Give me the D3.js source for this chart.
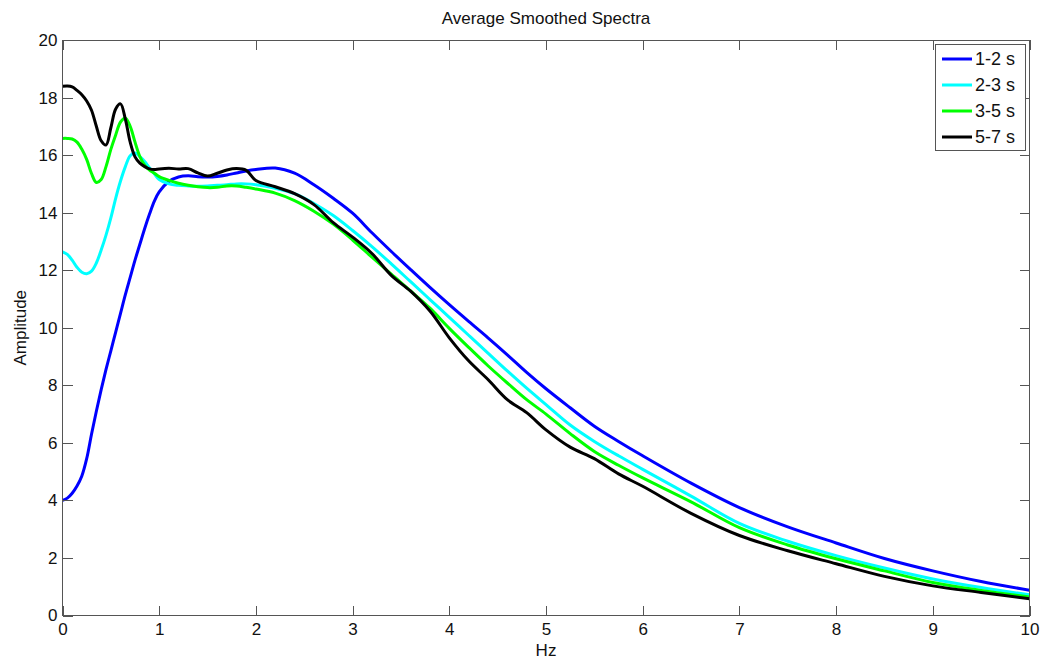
<!DOCTYPE html>
<html>
<head>
<meta charset="utf-8">
<script src="https://cdn.jsdelivr.net/npm/d3@7"></script>
<style>
  html, body { margin: 0; padding: 0; background: #fff; }
  svg { display: block; font-family: "Liberation Sans", Arial, sans-serif; }
</style>
</head>
<body>
<svg id="chart" width="1042" height="662"></svg>
<script>
// ---- data ----
const hz = [0, 0.05, 0.1, 0.15, 0.2, 0.25, 0.3, 0.35, 0.4, 0.45, 0.5, 0.55, 0.6, 0.65, 0.7, 0.75, 0.8, 0.85, 0.9, 0.95,
  1.0, 1.1, 1.2, 1.3, 1.4, 1.5, 1.6, 1.7, 1.8, 1.9, 2.0, 2.2, 2.4, 2.6, 2.8, 3.0, 3.2, 3.4, 3.6, 3.8,
  4.0, 4.2, 4.4, 4.6, 4.8, 5.0, 5.25, 5.5, 5.75, 6.0, 6.5, 7.0, 7.5, 8.0, 8.5, 9.0, 9.5, 10.0];

const s12 = [4.0, 4.08, 4.25, 4.5, 4.85, 5.45, 6.3, 7.1, 7.85, 8.55, 9.2, 9.85, 10.5, 11.15, 11.75, 12.35, 12.9, 13.45, 13.95, 14.4,
  14.72, 15.08, 15.24, 15.28, 15.25, 15.24, 15.26, 15.31, 15.38, 15.45, 15.5, 15.55, 15.37, 14.97, 14.5, 13.98, 13.3, 12.65, 12.02, 11.4,
  10.8, 10.22, 9.65, 9.06, 8.45, 7.88, 7.22, 6.58, 6.05, 5.55, 4.6, 3.75, 3.08, 2.52, 1.98, 1.55, 1.18, 0.88];

const s23 = [12.64, 12.55, 12.35, 12.1, 11.93, 11.88, 11.97, 12.25, 12.7, 13.22, 13.82, 14.5, 15.1, 15.6, 15.98, 16.07, 15.95, 15.78, 15.55, 15.35,
  15.15, 15.0, 14.95, 14.93, 14.92, 14.93, 14.95, 14.97, 15.0, 15.0, 14.97, 14.85, 14.66, 14.32, 13.9, 13.38, 12.82, 12.22, 11.6, 10.98,
  10.36, 9.74, 9.12, 8.5, 7.9, 7.33, 6.62, 6.05, 5.55, 5.08, 4.15, 3.2, 2.58, 2.08, 1.65, 1.27, 0.97, 0.72];

const s35 = [16.58, 16.58, 16.56, 16.45, 16.2, 15.85, 15.36, 15.05, 15.15, 15.6, 16.2, 16.7, 17.15, 17.28, 17.0, 16.45, 15.95, 15.65, 15.48, 15.37,
  15.25, 15.12, 15.02, 14.95, 14.9, 14.87, 14.88, 14.93, 14.93, 14.88, 14.82, 14.68, 14.42, 14.05, 13.6, 13.05, 12.45, 11.86, 11.28, 10.68,
  9.98, 9.32, 8.68, 8.08, 7.5, 7.0, 6.32, 5.7, 5.22, 4.78, 3.95, 3.05, 2.45, 1.97, 1.55, 1.15, 0.87, 0.64];

const s57 = [18.39, 18.4, 18.37, 18.25, 18.1, 17.88, 17.56, 17.0, 16.5, 16.35, 16.95, 17.6, 17.78, 17.25, 16.45, 15.94, 15.72, 15.6, 15.52, 15.5,
  15.52, 15.54, 15.52, 15.53, 15.38, 15.27, 15.37, 15.48, 15.53, 15.47, 15.12, 14.9, 14.66, 14.28, 13.65, 13.15, 12.58, 11.82, 11.27, 10.58,
  9.65, 8.85, 8.2, 7.5, 7.05, 6.45, 5.85, 5.45, 4.92, 4.49, 3.55, 2.78, 2.25, 1.8, 1.36, 1.03, 0.8, 0.58];

const seriesNames = ["1-2 s", "2-3 s", "3-5 s", "5-7 s"];
const seriesColors = ["#0000ff", "#00ffff", "#00ff00", "#000000"];
const seriesValues = [s12, s23, s35, s57];

const xTicks = [0, 1, 2, 3, 4, 5, 6, 7, 8, 9, 10];
const yTicks = [0, 2, 4, 6, 8, 10, 12, 14, 16, 18, 20];

const titleText = "Average Smoothed Spectra";
const xLabel = "Hz";
const yLabel = "Amplitude";

// ---- layout ----
const svg = d3.select("#chart");
const mLeft = 62.5, mRight = 1029.5, mTop = 40, mBottom = 615.5;
const x = d3.scaleLinear().domain([0, 10]).range([mLeft, mRight]);
const y = d3.scaleLinear().domain([0, 20]).range([mBottom, mTop]);
const axisColor = "#555";
const tickLen = 10;

// data lines
const line = d3.line().x((d, i) => x(hz[i])).y(d => y(d)).curve(d3.curveCatmullRom.alpha(0.5));
seriesValues.forEach((vals, k) => {
  svg.append("path")
    .attr("d", line(vals))
    .attr("fill", "none")
    .attr("stroke", seriesColors[k])
    .attr("stroke-width", 3)
    .attr("stroke-linejoin", "round");
});

function styleAxis(g, labels) {
  g.select(".domain").remove();
  g.selectAll(".tick line").attr("stroke", axisColor).attr("stroke-width", 1).attr("shape-rendering", "crispEdges");
  if (!labels) g.selectAll(".tick text").remove();
  else g.selectAll(".tick text").attr("fill", "#111").style("font-size", "17px").style("font-family", '"Liberation Sans", Arial, sans-serif');
}

svg.append("g").attr("transform", `translate(0,${mBottom})`)
  .call(d3.axisBottom(x).tickValues(xTicks).tickSizeInner(-tickLen).tickSizeOuter(0).tickPadding(7).tickFormat(d3.format("d")))
  .call(g => styleAxis(g, true));
svg.append("g").attr("transform", `translate(0,${mTop})`)
  .call(d3.axisTop(x).tickValues(xTicks).tickSizeInner(-tickLen).tickSizeOuter(0))
  .call(g => styleAxis(g, false));
svg.append("g").attr("transform", `translate(${mLeft},0)`)
  .call(d3.axisLeft(y).tickValues(yTicks).tickSizeInner(-tickLen).tickSizeOuter(0).tickPadding(5).tickFormat(d3.format("d")))
  .call(g => styleAxis(g, true));
svg.append("g").attr("transform", `translate(${mRight},0)`)
  .call(d3.axisRight(y).tickValues(yTicks).tickSizeInner(-tickLen).tickSizeOuter(0))
  .call(g => styleAxis(g, false));

// frame
svg.append("rect")
  .attr("x", mLeft).attr("y", mTop)
  .attr("width", mRight - mLeft).attr("height", mBottom - mTop)
  .attr("fill", "none").attr("stroke", axisColor).attr("stroke-width", 1)
  .attr("shape-rendering", "crispEdges");

// titles
svg.append("text").attr("x", (mLeft + mRight) / 2).attr("y", 24)
  .attr("text-anchor", "middle").style("font-size", "17px").attr("fill", "#111").text(titleText);
svg.append("text").attr("x", (mLeft + mRight) / 2).attr("y", 656)
  .attr("text-anchor", "middle").style("font-size", "17px").attr("fill", "#111").text(xLabel);
svg.append("text").attr("transform", `translate(26,${(mTop + mBottom) / 2}) rotate(-90)`)
  .attr("text-anchor", "middle").style("font-size", "17px").attr("fill", "#111").text(yLabel);

// legend
const lg = svg.append("g");
lg.append("rect").attr("x", 935.5).attr("y", 44.5).attr("width", 90).attr("height", 106)
  .attr("fill", "#fff").attr("stroke", axisColor).attr("stroke-width", 1).attr("shape-rendering", "crispEdges");
seriesNames.forEach((name, k) => {
  const yy = 59 + k * 26;
  lg.append("line").attr("x1", 942).attr("x2", 972).attr("y1", yy).attr("y2", yy)
    .attr("stroke", seriesColors[k]).attr("stroke-width", 3);
  lg.append("text").attr("x", 975).attr("y", yy).attr("dy", "0.35em")
    .style("font-size", "18px").attr("fill", "#111").text(name);
});
</script>
</body>
</html>
